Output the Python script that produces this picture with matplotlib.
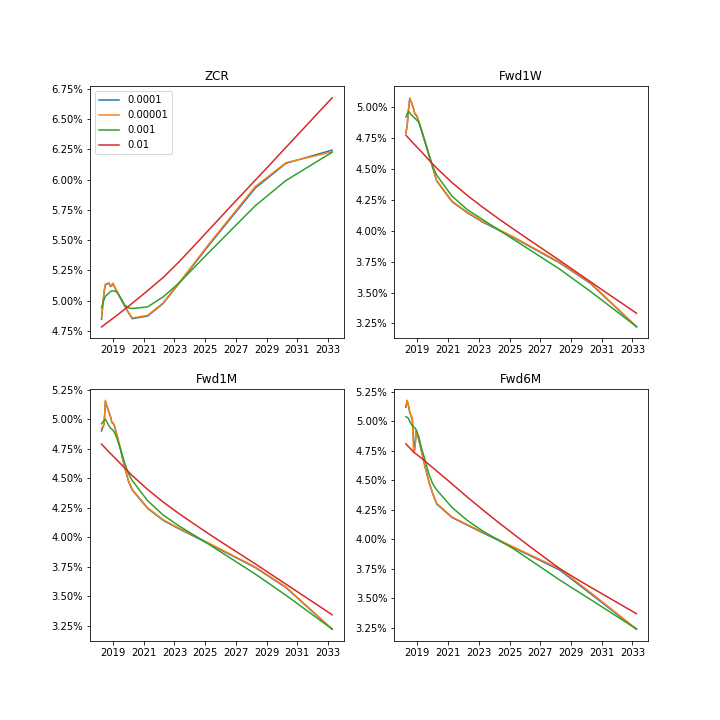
import datetime
import matplotlib
matplotlib.use("Agg")
import matplotlib.pyplot as plt
import matplotlib.ticker as mtick
import matplotlib.dates as mdates
import pandas as pd

# ---------------- data ----------------
BASE_DATE = "2018-06-27"
LABELS = ["0.0001", "0.00001", "0.001", "0.01"]
TITLES = ["ZCR", "Fwd1W", "Fwd1M", "Fwd6M"]

# months after base date for the curve nodes
M_NODE = [0, 1, 2, 3, 4, 5, 6, 7, 8, 9, 10, 11, 12, 15, 18, 21, 24, 36, 48, 60, 84, 120, 144, 180]
M_RED = [0, 6, 12, 18, 24, 36, 48, 60, 72, 84, 96, 108, 120, 132, 144, 156, 168, 180]

# ZCR (%)
zcr_0001 = [4.845, 4.96, 5.07, 5.13, 5.135, 5.14, 5.14, 5.115, 5.125, 5.14, 5.115, 5.095,
            5.075, 5.015, 4.955, 4.90, 4.85, 4.872, 4.975, 5.135, 5.46, 5.93, 6.135, 6.244]
zcr_00001 = [4.856, 4.97, 5.08, 5.137, 5.14, 5.145, 5.145, 5.12, 5.13, 5.145, 5.12, 5.10,
             5.08, 5.02, 4.96, 4.905, 4.856, 4.878, 4.98, 5.14, 5.47, 5.943, 6.14, 6.23]
zcr_001 = [4.94, 4.975, 5.01, 5.035, 5.045, 5.055, 5.065, 5.075, 5.08, 5.08, 5.08, 5.075,
           5.07, 5.02, 4.965, 4.94, 4.934, 4.948, 5.03, 5.14, 5.40, 5.784, 5.993, 6.226]
zcr_01 = [4.782, 4.83, 4.878, 4.928, 4.978, 5.082, 5.19, 5.315, 5.45, 5.587, 5.724, 5.86,
          5.995, 6.13, 6.267, 6.403, 6.54, 6.676]

# Fwd1W (%)
f1w_0001 = [4.79, 4.845, 4.975, 5.07, 5.045, 5.015, 4.985, 4.942, 4.935, 4.915, 4.885, 4.85,
            4.815, 4.713, 4.61, 4.507, 4.403, 4.235, 4.145, 4.07, 3.945, 3.74, 3.575, 3.222]
f1w_00001 = [4.795, 4.85, 4.98, 5.075, 5.05, 5.02, 4.99, 4.947, 4.94, 4.92, 4.89, 4.855,
             4.82, 4.718, 4.615, 4.512, 4.408, 4.24, 4.15, 4.075, 3.95, 3.745, 3.58, 3.225]
f1w_001 = [4.92, 4.945, 4.966, 4.955, 4.94, 4.93, 4.92, 4.91, 4.90, 4.89, 4.878, 4.85,
           4.82, 4.72, 4.615, 4.52, 4.45, 4.28, 4.17, 4.09, 3.93, 3.69, 3.51, 3.225]
f1w_01 = [4.773, 4.705, 4.64, 4.572, 4.507, 4.39, 4.285, 4.19, 4.10, 4.013, 3.928, 3.844,
          3.76, 3.674, 3.588, 3.502, 3.418, 3.333]

# Fwd1M (%)
f1m_0001 = [4.90, 4.93, 4.955, 5.15, 5.115, 5.08, 5.05, 5.02, 4.97, 4.965, 4.945, 4.905,
            4.865, 4.735, 4.595, 4.475, 4.40, 4.245, 4.145, 4.075, 3.945, 3.745, 3.575, 3.222]
f1m_00001 = [4.921, 4.935, 4.96, 5.16, 5.12, 5.085, 5.055, 5.025, 4.975, 4.97, 4.95, 4.91,
             4.87, 4.74, 4.60, 4.48, 4.405, 4.25, 4.15, 4.08, 3.95, 3.75, 3.58, 3.225]
f1m_001 = [4.961, 4.975, 4.99, 5.0, 4.98, 4.96, 4.94, 4.925, 4.915, 4.905, 4.89, 4.865,
           4.84, 4.74, 4.63, 4.54, 4.48, 4.31, 4.19, 4.10, 3.94, 3.69, 3.51, 3.225]
f1m_01 = [4.789, 4.72, 4.655, 4.588, 4.522, 4.405, 4.30, 4.205, 4.115, 4.028, 3.943, 3.86,
          3.776, 3.69, 3.604, 3.518, 3.432, 3.345]

# Fwd6M (%)
f6m_0001 = [5.12, 5.175, 5.135, 5.075, 5.045, 5.02, 4.84, 4.78, 4.92, 4.885, 4.845, 4.805,
            4.755, 4.61, 4.485, 4.385, 4.30, 4.185, 4.12, 4.055, 3.93, 3.74, 3.54, 3.236]
f6m_00001 = [5.129, 5.18, 5.14, 5.08, 5.05, 5.027, 4.74, 4.754, 4.927, 4.89, 4.85, 4.81,
             4.76, 4.615, 4.49, 4.39, 4.306, 4.19, 4.125, 4.06, 3.935, 3.75, 3.55, 3.239]
f6m_001 = [5.04, 5.035, 5.027, 5.0, 4.98, 4.965, 4.955, 4.945, 4.93, 4.90, 4.875, 4.83,
           4.78, 4.67, 4.55, 4.47, 4.42, 4.27, 4.16, 4.07, 3.92, 3.655, 3.49, 3.239]
f6m_01 = [4.81, 4.74, 4.69, 4.635, 4.58, 4.47, 4.358, 4.25, 4.145, 4.045, 3.945, 3.848,
          3.752, 3.672, 3.595, 3.52, 3.444, 3.369]

PANELS = [
    (zcr_0001, zcr_00001, zcr_001, zcr_01),
    (f1w_0001, f1w_00001, f1w_001, f1w_01),
    (f1m_0001, f1m_00001, f1m_001, f1m_01),
    (f6m_0001, f6m_00001, f6m_001, f6m_01),
]

# ---------------- plot ----------------
base = pd.Timestamp(BASE_DATE)
d_node = [base + pd.DateOffset(months=m) for m in M_NODE]
d_red = [base + pd.DateOffset(months=m) for m in M_RED]

fig, axes = plt.subplots(2, 2, figsize=(10, 10), dpi=72)
for ax, title, series in zip(axes.flat, TITLES, PANELS):
    for i, (lab, vals) in enumerate(zip(LABELS, series)):
        xs = d_red if i == 3 else d_node
        ax.plot(xs, vals, color=f"C{i}", label=lab)
    ax.set_title(title)
    ax.yaxis.set_major_locator(mtick.MultipleLocator(0.25))
    ax.yaxis.set_major_formatter(mtick.PercentFormatter(xmax=100, decimals=2))
    ax.xaxis.set_major_locator(mdates.RRuleLocator(
        mdates.rrulewrapper(mdates.YEARLY, interval=2,
                            dtstart=datetime.datetime(2019, 1, 1))))
    ax.xaxis.set_major_formatter(mdates.DateFormatter("%Y"))

axes[0, 0].legend(loc="upper left")
fig.savefig("out.png", dpi=72)
